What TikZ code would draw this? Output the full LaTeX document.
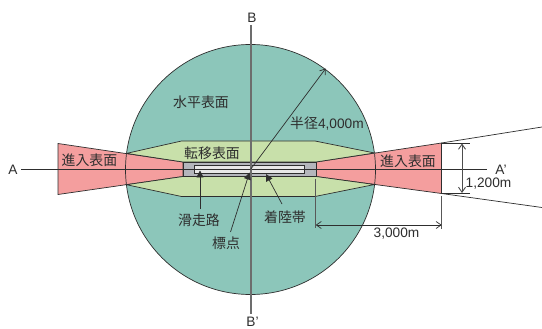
\documentclass[tikz,border=0pt]{standalone}
\usepackage{fontspec}
\setmainfont{Liberation Sans}
\newfontfamily\cjk{Noto Sans CJK JP}[Scale=1]
\usetikzlibrary{arrows.meta}
\definecolor{ink}{HTML}{2E2E2E}
\definecolor{circ}{HTML}{8CC6BA}
\definecolor{pinkc}{HTML}{F49E9E}
\definecolor{greenc}{HTML}{C8E0AA}
\definecolor{greyc}{HTML}{B4B6BC}
\definecolor{stripc}{HTML}{E8E8E8}
\tikzset{
  outl/.style={draw=ink,line width=0.7pt},
  jp/.style={inner sep=0pt,text=ink,font=\cjk\fontsize{13.9}{15}\selectfont},
  lat/.style={inner sep=0pt,text=ink,font=\fontsize{13.7}{15}\selectfont},
  axis/.style={draw=ink!70,line width=1.1pt},
  thin line/.style={draw=ink,line width=0.7pt},
  solidarrow/.style={thin line,-{Triangle[length=7pt,width=7pt]}},
  openarrow/.style={thin line,-{Straight Barb[length=5pt,width=7pt]}},
  opentwo/.style={draw=ink!85,line width=0.9pt,{Straight Barb[length=5pt,width=7pt]}-{Straight Barb[length=5pt,width=7pt]}}
}
\begin{document}
\begin{tikzpicture}[x=1pt,y=-1pt]
\useasboundingbox (0,0) rectangle (542,329);
\fill[white] (0,0) rectangle (542,329);
% coordinates
\coordinate (ctr) at (250.5,169.5);
\coordinate (rim) at (325.7,68.5);
\coordinate (Atop) at (58,143.5);
\coordinate (Abot) at (58,194.5);
\coordinate (Ctop) at (441.5,143);
\coordinate (Cbot) at (441.5,193.5);
% circle
\node[circle,outl,fill=circ,minimum size=250pt,inner sep=0pt] (horiz) at (ctr) {};
% approach surfaces
\draw[outl,fill=pinkc] (183,162) -- (Atop) -- (Abot) -- (183,176.5) -- cycle;
\draw[outl,fill=pinkc] (316,162) -- (Ctop) -- (Cbot) -- (316,176.5) -- cycle;
% transition surface
\draw[outl,fill=greenc] (126.5,153.4) -- (181.5,141) -- (315,141) -- (374.5,153) -- (316,162) -- (183,162) -- cycle;
\draw[outl,fill=greenc] (126.5,184.7) -- (181.5,196.5) -- (315,196.5) -- (374.5,184.5) -- (316,176.5) -- (183,176.5) -- cycle;
% circle arc redrawn over the wedges
\draw[outl] (125.5,169.5) arc[start angle=180,end angle=173,radius=125];
\draw[outl] (125.5,169.5) arc[start angle=180,end angle=187,radius=125];
\draw[outl] (375.5,169.5) arc[start angle=0,end angle=7,radius=125];
\draw[outl] (375.5,169.5) arc[start angle=0,end angle=-7,radius=125];
% runway
\node[outl,fill=greyc,minimum width=133pt,minimum height=14.5pt,inner sep=0pt] (rwy) at (249.5,169.3) {};
\node[outl,fill=stripc,minimum width=110pt,minimum height=8pt,inner sep=0pt] (strip) at (249,169) {};
% axis labels
\node[lat] (A) at (13,170) {A};
\node[lat] (Ap) at (501,170) {A'};
\node[lat] (B) at (252,18) {B};
\node[lat] (Bp) at (252.5,321.5) {B'};
\coordinate (Aend) at (21,169.7);
\coordinate (Apend) at (487,169.7);
\coordinate (Bend) at (251,25);
\coordinate (Bpend) at (251,314);
\draw[thin line] (Aend) -- (Apend);
\draw[axis] (Bend) -- (Bpend);
% surface labels
\node[jp] (h) at (201,102.5) {水平表面};
\node[jp] (al) at (89.5,160.5) {進入表面};
\node[jp] (ar) at (408,161.5) {進入表面};
\node[jp] (t) at (212,153.5) {転移表面};
\node[jp,anchor=west] (rad) at (290,123.5) {半径\fontspec{Liberation Sans}\fontsize{13.7}{15}\selectfont 4,000m};
\node[jp] (run) at (199,220.5) {滑走路};
\node[jp] (land) at (285,217) {着陸帯};
\node[jp] (mark) at (226,243.5) {標点};
\node[lat] (d12) at (488.5,184) {1,200m};
\node[lat] (d30) at (396.5,234) {3,000m};
% leader arrows
\coordinate (runS) at (200,209);
\coordinate (runE) at (200,170.5);
\coordinate (landS) at (282,204);
\coordinate (landE) at (266,174);
\coordinate (markS) at (230.5,232);
\coordinate (markE) at (249.5,172.5);
\draw[solidarrow] (runS) -- (runE);
\draw[solidarrow] (landS) -- (landE);
\draw[solidarrow] (markS) -- (markE);
\draw[openarrow] (ctr) -- (rim);
% dimensions and extensions
\coordinate (ext1) at (542,127);
\coordinate (ext2) at (542,207.5);
\draw[thin line] (Ctop) -- (ext1);
\draw[thin line] (Cbot) -- (ext2);
\coordinate (t1) at (470,143);
\coordinate (t2) at (470,193.5);
\draw[thin line] (Ctop) -- (t1);
\draw[thin line] (Cbot) -- (t2);
\coordinate (d1) at (462,143.5);
\coordinate (d2) at (462,193);
\draw[opentwo] (d1) -- (d2);
\coordinate (v1a) at (441.7,196);
\coordinate (v1b) at (441.7,229);
\coordinate (v2a) at (315.7,179);
\coordinate (v2b) at (315.7,228.5);
\draw[draw=ink!80,line width=0.9pt] (v1a) -- (v1b);
\draw[draw=ink!80,line width=0.9pt] (v2a) -- (v2b);
\coordinate (h1) at (315.7,225);
\coordinate (h2) at (441.7,225);
\draw[thin line,{Straight Barb[length=5pt,width=7pt]}-{Straight Barb[length=5pt,width=7pt]}] (h1) -- (h2);
\end{tikzpicture}
\end{document}
